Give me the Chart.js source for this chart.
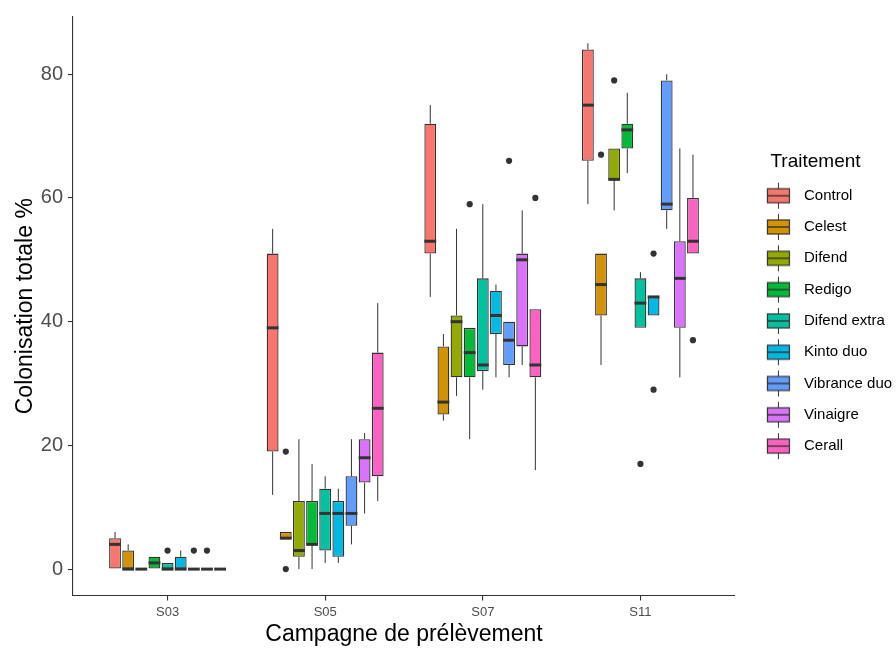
<!DOCTYPE html>
<html>
<head>
<meta charset="utf-8">
<script src="https://cdn.jsdelivr.net/npm/chart.js@4.4.1/dist/chart.umd.min.js"></script>
<style>
  html, body { margin: 0; padding: 0; background: #fff; }
  #wrap { width: 896px; height: 648px; }
</style>
</head>
<body>
<div id="wrap"><canvas id="boxChart" width="896" height="648"></canvas></div>
<script>
// campaigns on the x axis, one box per treatment in each campaign
var campaigns = ['S03', 'S05', 'S07', 'S11'];
var treatments = ['Control', 'Celest', 'Difend', 'Redigo', 'Difend extra', 'Kinto duo', 'Vibrance duo', 'Vinaigre', 'Cerall'];
var fills = ['#F8766D', '#D39200', '#93AA00', '#00BA38', '#00C19F', '#00B9E3', '#619CFF', '#DB72FB', '#FF61C3'];
var yTicks = [0, 20, 40, 60, 80];

// box statistics, one row per treatment (S03, S05, S07, S11)
var whiskLow = [
    [0, 12, 44, 59],
    [0, 5, 24, 33],
    [0, 0, 28, 58],
    [0, 0, 21, 64],
    [0, 1, 29, 39],
    [0, 1, 31, 41],
    [0, 4, 31, 55],
    [0, 9, 33, 31],
    [0, 11, 16, 51]
];
var q1 = [
    [0, 19, 51, 66],
    [0, 5, 25, 41],
    [0, 2, 31, 63],
    [0, 4, 31, 68],
    [0, 3, 32, 39],
    [0, 2, 38, 41],
    [0, 7, 33, 58],
    [0, 14, 36, 39],
    [0, 15, 31, 51]
];
var medians = [
    [4, 39, 53, 75],
    [0, 5, 27, 46],
    [0, 3, 40, 63],
    [1, 4, 35, 71],
    [0, 9, 33, 43],
    [0, 9, 41, 44],
    [0, 9, 37, 59],
    [0, 18, 50, 47],
    [0, 26, 33, 53]
];
var q3 = [
    [5, 51, 72, 84],
    [3, 6, 36, 51],
    [0, 11, 41, 68],
    [2, 11, 39, 72],
    [1, 13, 47, 47],
    [2, 11, 45, 44],
    [0, 15, 40, 79],
    [0, 21, 51, 53],
    [0, 35, 42, 60]
];
var whiskHigh = [
    [6, 55, 75, 85],
    [4, 6, 38, 51],
    [0, 21, 55, 68],
    [2, 17, 39, 77],
    [1, 15, 59, 48],
    [3, 13, 46, 44],
    [0, 21, 40, 80],
    [0, 22, 58, 68],
    [0, 43, 42, 67]
];
var outliers = [
    [[], [], [], []],
    [[], [0, 19], [], [67]],
    [[], [], [], [79]],
    [[], [], [59], []],
    [[3], [], [], [17]],
    [[], [], [], [51, 29]],
    [[3], [], [66], []],
    [[3], [], [], []],
    [[], [], [60], [37]]
];

var FONT = "'Liberation Sans', Arial, sans-serif";
var INK = '#333333';

// small boxplot glyph used as legend key
function keyGlyph(color) {
    var c = document.createElement('canvas');
    c.width = 40;
    c.height = 28;
    var g = c.getContext('2d');
    var cx = 24.5, cy = 14;
    g.strokeStyle = INK;
    g.lineWidth = 1;
    g.beginPath();
    g.moveTo(cx, 1);
    g.lineTo(cx, 27);
    g.stroke();
    g.fillStyle = color;
    g.fillRect(cx - 11, cy - 7, 22, 14);
    g.lineWidth = 1.2;
    g.strokeRect(cx - 11, cy - 7, 22, 14);
    g.lineWidth = 1.4;
    g.beginPath();
    g.moveTo(cx - 11, cy);
    g.lineTo(cx + 11, cy);
    g.stroke();
    return c;
}

// whiskers, medians and outliers around the floating bars
var boxParts = {
    id: 'boxParts',
    beforeDatasetsDraw: function(chart) {
        var ctx = chart.ctx, y = chart.scales.y;
        ctx.save();
        ctx.strokeStyle = INK;
        ctx.lineWidth = 1;
        treatments.forEach(function(t, i) {
            chart.getDatasetMeta(i).data.forEach(function(bar, j) {
                ctx.beginPath();
                ctx.moveTo(bar.x, y.getPixelForValue(whiskHigh[i][j]));
                ctx.lineTo(bar.x, y.getPixelForValue(q3[i][j]));
                ctx.moveTo(bar.x, y.getPixelForValue(q1[i][j]));
                ctx.lineTo(bar.x, y.getPixelForValue(whiskLow[i][j]));
                ctx.stroke();
            });
        });
        ctx.restore();
    },
    afterDatasetsDraw: function(chart) {
        var ctx = chart.ctx, y = chart.scales.y;
        ctx.save();
        treatments.forEach(function(t, i) {
            chart.getDatasetMeta(i).data.forEach(function(bar, j) {
                var half = bar.width / 2;
                var my = y.getPixelForValue(medians[i][j]);
                ctx.strokeStyle = INK;
                ctx.lineWidth = 3;
                ctx.beginPath();
                ctx.moveTo(bar.x - half, my);
                ctx.lineTo(bar.x + half, my);
                ctx.stroke();
                ctx.fillStyle = INK;
                outliers[i][j].forEach(function(v) {
                    ctx.beginPath();
                    ctx.arc(bar.x, y.getPixelForValue(v), 3.1, 0, Math.PI * 2);
                    ctx.fill();
                });
            });
        });
        ctx.restore();
    }
};

var datasets = treatments.map(function(name, i) {
    return {
        label: name,
        data: campaigns.map(function(c, j) {
            return { x: j + 1, y: [q1[i][j], q3[i][j]] };
        }),
        backgroundColor: fills[i],
        borderColor: INK,
        borderWidth: 1.3,
        borderSkipped: false,
        barPercentage: 0.9,
        categoryPercentage: 0.75
    };
});

var axisGrid = { display: true, offset: false, drawOnChartArea: false, drawTicks: true, tickLength: 5, color: INK, lineWidth: 1.1 };
var axisBorder = { display: true, color: INK, width: 1.1 };

var ctx = document.getElementById('boxChart').getContext('2d');
var chart = new Chart(ctx, {
    type: 'bar',
    data: { datasets: datasets },
    plugins: [boxParts],
    options: {
        responsive: false,
        animation: false,
        events: [],
        layout: { padding: { left: 0, top: 15.65, right: 0, bottom: 0 } },
        plugins: {
            tooltip: { enabled: false },
            legend: {
                position: 'right',
                align: 'start',
                maxWidth: 161,
                title: {
                    display: true,
                    text: 'Traitement',
                    position: 'center',
                    color: '#000000',
                    font: { family: FONT, size: 19, lineHeight: 1 },
                    padding: { top: 136.55, bottom: 0.7 }
                },
                labels: {
                    usePointStyle: true,
                    pointStyleWidth: 45.2,
                    padding: 16.3,
                    color: '#1a1a1a',
                    font: { family: FONT, size: 15 },
                    generateLabels: function() {
                        return treatments.map(function(name, i) {
                            return {
                                text: name,
                                pointStyle: keyGlyph(fills[i]),
                                datasetIndex: i,
                                hidden: false,
                                lineWidth: 0
                            };
                        });
                    }
                }
            }
        },
        scales: {
            x: {
                type: 'linear',
                min: 0.4,
                max: 4.6,
                offset: false,
                afterBuildTicks: function(scale) {
                    scale.ticks = campaigns.map(function(c, j) { return { value: j + 1 }; });
                },
                afterFit: function(scale) { scale.height = 52.6; },
                ticks: {
                    callback: function(v) { return campaigns[v - 1]; },
                    color: '#4D4D4D',
                    font: { family: FONT, size: 13 },
                    padding: 4,
                    maxRotation: 0,
                    autoSkip: false
                },
                grid: axisGrid,
                border: axisBorder,
                title: {
                    display: true,
                    text: 'Campagne de prélèvement',
                    color: '#000000',
                    font: { family: FONT, size: 23 },
                    padding: { top: 0, bottom: 0 }
                }
            },
            y: {
                min: -4.25,
                max: 89.25,
                afterBuildTicks: function(scale) {
                    scale.ticks = yTicks.map(function(v) { return { value: v }; });
                },
                afterFit: function(scale) { scale.width = 73; },
                ticks: {
                    color: '#4D4D4D',
                    font: { family: FONT, size: 20 },
                    padding: 5
                },
                grid: axisGrid,
                border: axisBorder,
                title: {
                    display: true,
                    text: 'Colonisation totale %',
                    color: '#000000',
                    font: { family: FONT, size: 23 },
                    padding: { top: 12, bottom: 0 }
                }
            }
        }
    }
});
</script>
</body>
</html>
